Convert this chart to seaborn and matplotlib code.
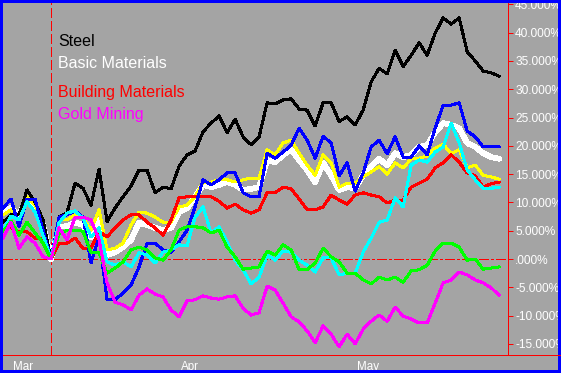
import numpy as np
import matplotlib
matplotlib.use("Agg")
import matplotlib.pyplot as plt
import matplotlib.transforms as mtransforms
from matplotlib.lines import Line2D
from matplotlib.patches import Rectangle
import seaborn as sns

# trading days from Feb 28 to May 26 (one value per weekday), % change vs Mar 10
month_labels = ["Mar", "Apr", "May"]
month_pos = [1, 22, 44]
week_pos = [1, 6, 11, 16, 21, 26, 31, 36, 41, 46, 51, 56, 61]
start_pos = 6

steel = [6.5, 7.8, 7.8, 12.2, 10.1, 6.9, 0.0, 7.4, 8.2, 13.4, 12.5, 9.5, 15.9, 6.6, 9.0, 11.0,
         12.9, 15.7, 15.7, 11.7, 12.7, 12.4, 16.4, 18.4, 19.1, 22.5, 24.0, 25.3, 22.3, 24.7, 21.6,
         20.2, 21.6, 27.6, 27.4, 28.1, 28.3, 26.5, 26.3, 23.5, 27.6, 27.6, 24.3, 25.1, 23.7, 26.3,
         31.3, 33.7, 32.7, 36.9, 34.0, 36.0, 38.2, 36.0, 39.9, 42.6, 41.5, 42.6, 36.6, 35.0, 33.2,
         32.9, 32.3]
basic_materials = [8.3, 9.0, 7.8, 10.6, 9.2, 6.0, 0.0, 5.7, 5.8, 6.5, 6.0, 3.9, 6.9, 0.7, 1.2, 2.1,
                   3.4, 6.4, 6.0, 5.5, 5.1, 5.5, 8.3, 9.0, 11.0, 13.1, 12.7, 13.1, 13.6, 13.1, 12.2,
                   12.4, 12.7, 17.5, 17.1, 18.4, 19.3, 17.5, 15.7, 13.6, 17.0, 14.8, 12.2, 12.7, 12.5,
                   14.8, 16.4, 17.7, 16.6, 18.7, 18.0, 18.4, 19.8, 20.1, 22.4, 24.0, 23.7, 23.1, 20.5,
                   19.8, 18.7, 18.0, 17.7]
building_materials = [5.5, 5.5, 4.8, 4.8, 3.7, 3.7, 0.0, 2.8, 2.8, 3.7, 1.9, 1.9, 4.9, 3.9, 5.5, 6.9,
                      7.8, 7.8, 6.5, 5.5, 4.2, 6.9, 10.8, 11.0, 11.0, 11.0, 11.0, 10.2, 9.0, 9.7, 8.7,
                      8.1, 8.7, 11.7, 11.7, 12.7, 12.4, 10.6, 8.7, 8.7, 9.2, 11.3, 10.4, 9.7, 11.3,
                      11.7, 11.3, 11.0, 9.9, 10.4, 10.4, 12.7, 13.4, 14.1, 16.1, 17.0, 18.4, 17.1, 15.2,
                      14.7, 12.7, 13.3, 13.6]
gold_mining = [3.7, 6.5, 1.9, 3.9, 2.8, 0.4, 0.0, 5.5, 3.4, 7.4, 7.4, 6.9, 3.4, -4.2, -7.6, -8.1,
               -9.0, -6.4, -5.3, -6.2, -6.7, -9.0, -10.2, -7.4, -7.2, -6.5, -6.9, -7.1, -6.7, -6.5,
               -8.7, -9.9, -9.5, -4.8, -5.5, -7.8, -10.2, -11.1, -12.7, -14.8, -11.8, -13.3, -15.5,
               -13.3, -15.0, -12.4, -11.0, -9.9, -11.0, -8.5, -10.1, -10.6, -11.3, -11.3, -7.8, -4.2,
               -3.7, -2.3, -2.8, -3.7, -4.2, -5.1, -6.4]
yellow_series = [7.8, 8.7, 6.5, 11.0, 9.5, 6.4, 0.0, 6.9, 6.9, 7.8, 7.2, 5.1, 8.7, 1.6, 1.9, 2.8,
                 6.0, 8.3, 8.1, 7.4, 6.5, 6.5, 9.2, 9.5, 11.0, 13.6, 13.6, 14.0, 14.0, 13.6, 14.0,
                 14.3, 14.3, 19.3, 18.4, 20.5, 21.0, 18.7, 16.6, 14.8, 18.4, 17.0, 12.7, 13.4, 13.4,
                 14.5, 15.4, 16.3, 15.0, 17.0, 16.1, 17.7, 17.8, 18.2, 19.6, 20.3, 18.6, 19.3, 16.1,
                 16.6, 14.8, 14.5, 14.1]
blue_series = [9.0, 10.6, 5.7, 10.6, 10.6, 5.1, 0.0, 7.4, 7.8, 8.5, 7.4, -0.7, 3.9, -7.2, -7.2, -6.0,
               -4.6, -1.4, 2.8, 2.8, 1.6, 1.2, 3.0, 5.1, 9.2, 14.0, 13.1, 14.0, 15.2, 15.2, 11.7,
               11.0, 11.0, 18.7, 17.8, 18.9, 20.1, 23.1, 21.0, 17.8, 21.7, 20.5, 14.7, 17.0, 12.0,
               15.2, 19.8, 21.0, 18.6, 21.6, 18.0, 18.0, 20.0, 18.4, 23.1, 27.2, 27.2, 27.6, 22.6,
               21.6, 19.8, 19.8, 19.8]
cyan_series = [5.1, 7.6, 6.9, 10.1, 8.3, 4.2, 0.0, 6.4, 8.1, 8.5, 7.2, 3.9, 5.5, -0.5, -1.1, -0.5,
               -1.4, 1.1, 0.7, -0.7, 1.2, 1.6, 2.5, 2.3, 7.4, 9.2, 4.6, 5.7, 3.0, -0.2, -1.9,
               -4.4, -3.2, 0.7, -0.2, 1.4, 1.2, -0.2, -1.1, -2.3, 0.2, 0.2, -2.8, -2.5, -2.5,
               1.2, 3.7, 6.5, 6.9, 10.8, 9.2, 16.6, 17.5, 17.1, 18.9, 19.8, 24.0, 20.5, 15.7,
               14.0, 12.5, 12.5, 12.7]
green_series = [4.8, 6.7, 4.2, 6.5, 4.6, 2.8, 0.0, 4.4, 5.1, 5.1, 4.9, 1.1, 1.1, -2.5, -1.6, -0.5,
                1.6, 2.1, 1.6, 0.2, -0.2, 1.6, 5.1, 5.7, 5.7, 5.5, 4.6, 5.1, 2.1, 0.4, -1.8,
                -1.6, -1.4, 1.4, 0.7, 2.5, 1.6, -1.9, -1.9, -0.7, 1.9, 0.4, -0.5, -2.5, -2.5,
                -3.7, -4.4, -3.2, -3.7, -3.2, -4.1, -2.1, -1.9, -1.1, 1.4, 2.8, 2.8, 2.1, -0.2,
                0.0, -1.8, -1.6, -1.4]

y_ticks = list(range(-15, 50, 5))

bg = "#a4a4a4"
red = "#ff0000"

sns.set_style("white")
plt.rcParams["font.family"] = ["Liberation Sans", "DejaVu Sans"]
plt.rcParams["lines.scale_dashes"] = False

fig = plt.figure(figsize=(5.61, 3.73), dpi=100, facecolor=bg)
W, H = 561, 373
ax = fig.add_axes([3 / W, 18 / H, 505 / W, 352 / H])
ax.set_facecolor(bg)

days = np.arange(len(steel))
series = [
    (basic_materials, "#ffffff", 3.4),
    (yellow_series, "#ffff00", 1.45),
    (steel, "#000000", 1.45),
    (building_materials, red, 1.45),
    (blue_series, "#0000ff", 1.45),
    (cyan_series, "#00ffff", 1.45),
    (green_series, "#00ff00", 1.45),
    (gold_mining, "#ff00ff", 1.45),
]
for vals, col, lw in series:
    sns.lineplot(x=days, y=vals, color=col, linewidth=lw, ax=ax, legend=False,
                 antialiased=False)

thin = 0.72  # one pixel
ax.plot([0, 63.1], [0, 0], color=red, lw=thin, ls=(0, (6.5, 1.5, 1.5, 1.5)),
        zorder=1.5, antialiased=False)
ax.plot([start_pos, start_pos], [-16.96, 45.23], color=red, lw=thin, ls=(0, (6.5, 2.2)),
        zorder=1.5, antialiased=False)

ax.set_xlim(0, 63.1)
ax.set_ylim(-16.96, 45.23)

# right-hand percent axis
ax.yaxis.tick_right()
ax.set_yticks(y_ticks)
ax.set_yticklabels([".000%" if v == 0 else f"{v:.3f}%" for v in y_ticks])
ax.tick_params(axis="y", colors=red, labelcolor="white", length=3.6, width=thin,
               labelsize=8.6, pad=1.5)

ax.set_xticks(month_pos)
ax.set_xticklabels(month_labels, ha="left")
ax.set_xticks(week_pos, minor=True)
ax.tick_params(axis="x", which="major", colors=red, labelcolor="white", length=5,
               width=thin, labelsize=8.4, pad=-0.5)
ax.tick_params(axis="x", which="minor", colors=red, length=2.2, width=thin)
offset = mtransforms.ScaledTranslation(2 / 100, 0, fig.dpi_scale_trans)
for lab in ax.get_xticklabels():
    lab.set_transform(lab.get_transform() + offset)

for s in ["left", "top"]:
    ax.spines[s].set_visible(False)
for s in ["right", "bottom"]:
    ax.spines[s].set_color(red)
    ax.spines[s].set_linewidth(thin)
ax.set_xlabel("")
ax.set_ylabel("")

# bottom axis line continues under the labels
fig.add_artist(Line2D([508 / W, 1], [18 / H, 18 / H], color=red, lw=thin))

# legend texts
names = ["Steel", "Basic Materials", "Building Materials", "Gold Mining"]
colors = ["#000000", "#ffffff", red, "#ff00ff"]
baselines = [45.5, 68, 96.5, 119]
for name, col, b in zip(names, colors, baselines):
    fig.text(58 / W, 1 - b / H, name, color=col, fontsize=11.5, va="baseline", ha="left")

fig.add_artist(Rectangle((0, 0), 1, 1, transform=fig.transFigure, fill=False,
                         edgecolor="#0000ff", linewidth=4.3, clip_on=False,
                         antialiased=False))

fig.savefig("out.png", dpi=100, facecolor=bg)
